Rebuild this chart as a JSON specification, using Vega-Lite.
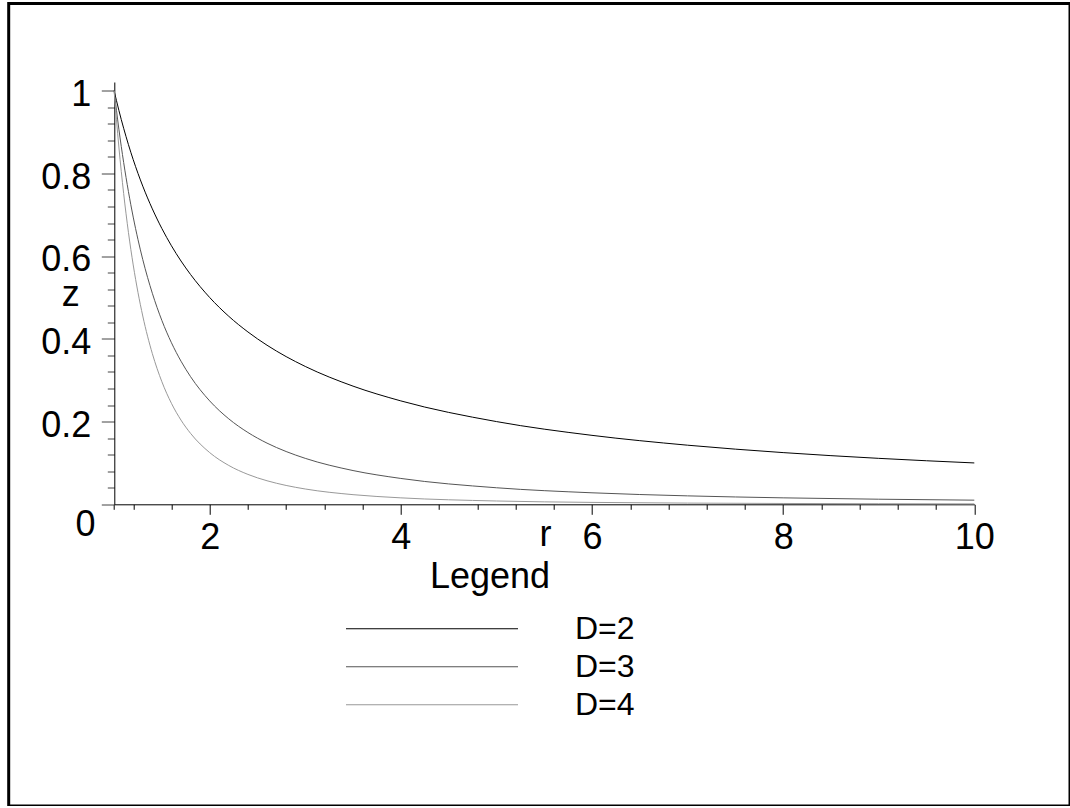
{
  "$schema": "https://vega.github.io/schema/vega-lite/v6.json",
  "width": 1061.3,
  "height": 802.5,
  "autosize": {"type": "none"},
  "padding": {"left": 8.7, "top": 3.5, "right": 0, "bottom": 0},
  "background": "white",
  "config": {
    "view": {"stroke": "black", "strokeWidth": 3, "fill": "white"},
    "font": "Liberation Sans"
  },
  "data": {"values": [
    {"r": 1, "D": "D=2", "z": 1}, {"r": 1.05, "D": "D=2", "z": 0.9524}, {"r": 1.1, "D": "D=2", "z": 0.9091}, {"r": 1.15, "D": "D=2", "z": 0.8696}, {"r": 1.2, "D": "D=2", "z": 0.8333}, {"r": 1.25, "D": "D=2", "z": 0.8}, {"r": 1.3, "D": "D=2", "z": 0.7692}, {"r": 1.4, "D": "D=2", "z": 0.7143}, {"r": 1.5, "D": "D=2", "z": 0.6667}, {"r": 1.6, "D": "D=2", "z": 0.625}, {"r": 1.7, "D": "D=2", "z": 0.5882}, {"r": 1.8, "D": "D=2", "z": 0.5556}, {"r": 2, "D": "D=2", "z": 0.5}, {"r": 2.2, "D": "D=2", "z": 0.4545}, {"r": 2.4, "D": "D=2", "z": 0.4167}, {"r": 2.6, "D": "D=2", "z": 0.3846}, {"r": 2.8, "D": "D=2", "z": 0.3571}, {"r": 3, "D": "D=2", "z": 0.3333}, {"r": 3.5, "D": "D=2", "z": 0.2857}, {"r": 4, "D": "D=2", "z": 0.25}, {"r": 5, "D": "D=2", "z": 0.2}, {"r": 6, "D": "D=2", "z": 0.1667}, {"r": 7, "D": "D=2", "z": 0.1429}, {"r": 8, "D": "D=2", "z": 0.125}, {"r": 9, "D": "D=2", "z": 0.1111}, {"r": 10, "D": "D=2", "z": 0.1},
    {"r": 1, "D": "D=3", "z": 1}, {"r": 1.05, "D": "D=3", "z": 0.907}, {"r": 1.1, "D": "D=3", "z": 0.8264}, {"r": 1.15, "D": "D=3", "z": 0.7561}, {"r": 1.2, "D": "D=3", "z": 0.6944}, {"r": 1.25, "D": "D=3", "z": 0.64}, {"r": 1.3, "D": "D=3", "z": 0.5917}, {"r": 1.4, "D": "D=3", "z": 0.5102}, {"r": 1.5, "D": "D=3", "z": 0.4444}, {"r": 1.6, "D": "D=3", "z": 0.3906}, {"r": 1.7, "D": "D=3", "z": 0.346}, {"r": 1.8, "D": "D=3", "z": 0.3086}, {"r": 2, "D": "D=3", "z": 0.25}, {"r": 2.2, "D": "D=3", "z": 0.2066}, {"r": 2.4, "D": "D=3", "z": 0.1736}, {"r": 2.6, "D": "D=3", "z": 0.1479}, {"r": 2.8, "D": "D=3", "z": 0.1276}, {"r": 3, "D": "D=3", "z": 0.1111}, {"r": 3.5, "D": "D=3", "z": 0.0816}, {"r": 4, "D": "D=3", "z": 0.0625}, {"r": 5, "D": "D=3", "z": 0.04}, {"r": 6, "D": "D=3", "z": 0.0278}, {"r": 7, "D": "D=3", "z": 0.0204}, {"r": 8, "D": "D=3", "z": 0.0156}, {"r": 9, "D": "D=3", "z": 0.0123}, {"r": 10, "D": "D=3", "z": 0.01},
    {"r": 1, "D": "D=4", "z": 1}, {"r": 1.05, "D": "D=4", "z": 0.8638}, {"r": 1.1, "D": "D=4", "z": 0.7513}, {"r": 1.15, "D": "D=4", "z": 0.6575}, {"r": 1.2, "D": "D=4", "z": 0.5787}, {"r": 1.25, "D": "D=4", "z": 0.512}, {"r": 1.3, "D": "D=4", "z": 0.4552}, {"r": 1.4, "D": "D=4", "z": 0.3644}, {"r": 1.5, "D": "D=4", "z": 0.2963}, {"r": 1.6, "D": "D=4", "z": 0.2441}, {"r": 1.7, "D": "D=4", "z": 0.2035}, {"r": 1.8, "D": "D=4", "z": 0.1715}, {"r": 2, "D": "D=4", "z": 0.125}, {"r": 2.2, "D": "D=4", "z": 0.0939}, {"r": 2.4, "D": "D=4", "z": 0.0723}, {"r": 2.6, "D": "D=4", "z": 0.0569}, {"r": 2.8, "D": "D=4", "z": 0.0456}, {"r": 3, "D": "D=4", "z": 0.037}, {"r": 3.5, "D": "D=4", "z": 0.0233}, {"r": 4, "D": "D=4", "z": 0.0156}, {"r": 5, "D": "D=4", "z": 0.008}, {"r": 6, "D": "D=4", "z": 0.0046}, {"r": 7, "D": "D=4", "z": 0.0029}, {"r": 8, "D": "D=4", "z": 0.002}, {"r": 9, "D": "D=4", "z": 0.0014}, {"r": 10, "D": "D=4", "z": 0.001}
  ]},
  "mark": {"type": "line", "strokeWidth": 1, "interpolate": "monotone"},
  "encoding": {
    "x": {
      "field": "r", "type": "quantitative",
      "scale": {"domain": [1, 10], "range": [105.4, 965.6], "nice": false, "zero": false},
      "axis": {
        "offset": -301.7,
        "values": [1, 1.2, 1.6, 2, 2.4, 2.8, 3.2, 3.6, 4, 4.4, 4.8, 5.2, 5.6, 6, 6.4, 6.8, 7.2, 7.6, 8, 8.4, 8.8, 9.2, 9.6, 10],
        "labelExpr": "datum.value % 2 == 0 ? format(datum.value, '~g') : ''",
        "tickSize": {"condition": {"test": "datum.value % 2 == 0", "value": 10}, "value": 5},
        "tickColor": "black", "domainColor": "black", "domainWidth": 1, "tickWidth": 1,
        "grid": false,
        "labelFont": "Liberation Sans", "labelFontSize": 36, "labelColor": "black",
        "labelBaseline": "alphabetic", "labelPadding": 33.7, "labelFlush": false, "labelOverlap": false,
        "title": "r", "titleFont": "Liberation Sans", "titleFontSize": 36, "titleFontWeight": "normal", "titleColor": "black",
        "titleX": 536.3, "titleY": 40.7, "titleAlign": "center", "titleBaseline": "alphabetic", "titleAngle": 0
      }
    },
    "y": {
      "field": "z", "type": "quantitative",
      "scale": {"domain": [0, 1.021], "range": [500.8, 78.5], "nice": false, "zero": false},
      "axis": {
        "offset": -105.6,
        "values": [0, 0.04, 0.08, 0.12, 0.16, 0.2, 0.24, 0.28, 0.32, 0.36, 0.4, 0.44, 0.48, 0.52, 0.56, 0.6, 0.64, 0.68, 0.72, 0.76, 0.8, 0.84, 0.88, 0.92, 0.96, 1],
        "labelExpr": "abs(datum.value*5 - round(datum.value*5)) < 0.001 ? format(datum.value, '~g') : ''",
        "tickSize": {"condition": {"test": "abs(datum.value*5 - round(datum.value*5)) < 0.001", "value": 13}, "value": 7},
        "tickColor": "#444444", "domainColor": "black", "domainWidth": 1, "tickWidth": 1,
        "grid": false,
        "labelFont": "Liberation Sans", "labelFontSize": 36, "labelColor": "black",
        "labelBaseline": "alphabetic",
        "labelOffset": {"condition": {"test": "datum.value == 0", "value": 31}, "value": 14.8},
        "labelPadding": {"condition": {"test": "datum.value == 0", "value": 6.3}, "value": 10.6},
        "labelFlush": false, "labelOverlap": false,
        "title": "z", "titleFont": "Liberation Sans", "titleFontSize": 36, "titleFontWeight": "normal", "titleColor": "black",
        "titleX": -44, "titleY": 302, "titleAlign": "center", "titleBaseline": "alphabetic", "titleAngle": 0
      }
    },
    "color": {
      "field": "D", "type": "nominal",
      "scale": {"domain": ["D=2", "D=3", "D=4"], "range": ["#000000", "#555555", "#999999"]},
      "legend": {
        "orient": "none", "legendX": 336.3, "legendY": 556.5,
        "title": "Legend", "titleFont": "Liberation Sans", "titleFontSize": 36, "titleFontWeight": "normal", "titleColor": "black",
        "titleAnchor": "middle", "titleAlign": "center", "titlePadding": 14,
        "symbolType": "stroke", "symbolSize": 29584, "symbolStrokeWidth": 1.2,
        "labelFont": "Liberation Sans", "labelFontSize": 32, "labelColor": "black", "labelOffset": 56,
        "clipHeight": 37.5, "rowPadding": 0, "padding": 0
      }
    }
  }
}
